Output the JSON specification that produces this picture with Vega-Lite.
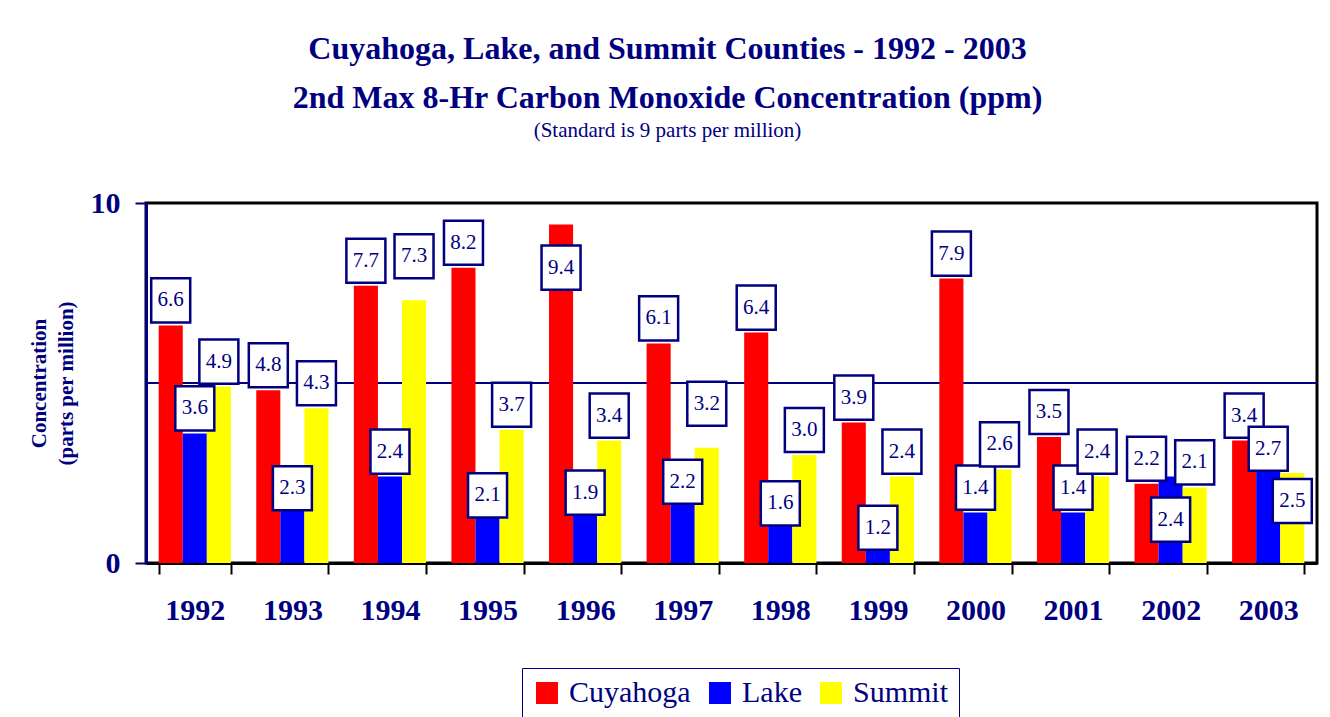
{
  "$schema": "https://vega.github.io/schema/vega-lite/v6.json",
  "autosize": "none",
  "width": 1171,
  "height": 360,
  "padding": {"left": 146, "top": 203, "right": 13, "bottom": 154},
  "background": "white",
  "title": {
    "text": ["Cuyahoga, Lake, and Summit Counties - 1992 - 2003", "2nd Max 8-Hr Carbon Monoxide Concentration (ppm)"],
    "subtitle": "(Standard is 9 parts per million)",
    "font": "Liberation Serif",
    "fontSize": 32,
    "fontWeight": "bold",
    "color": "#000080",
    "lineHeight": 49,
    "subtitleFont": "Liberation Serif",
    "subtitleFontSize": 21,
    "subtitleColor": "#000080",
    "subtitlePadding": 5,
    "anchor": "middle",
    "frame": "group",
    "dx": -64,
    "offset": 46
  },
  "data": {
    "values": [
      {"year": 1992, "county": "Cuyahoga", "value": 6.6},
      {"year": 1992, "county": "Lake", "value": 3.6},
      {"year": 1992, "county": "Summit", "value": 4.9},
      {"year": 1993, "county": "Cuyahoga", "value": 4.8},
      {"year": 1993, "county": "Lake", "value": 2.3},
      {"year": 1993, "county": "Summit", "value": 4.3},
      {"year": 1994, "county": "Cuyahoga", "value": 7.7},
      {"year": 1994, "county": "Lake", "value": 2.4},
      {"year": 1994, "county": "Summit", "value": 7.3},
      {"year": 1995, "county": "Cuyahoga", "value": 8.2},
      {"year": 1995, "county": "Lake", "value": 2.1},
      {"year": 1995, "county": "Summit", "value": 3.7},
      {"year": 1996, "county": "Cuyahoga", "value": 9.4},
      {"year": 1996, "county": "Lake", "value": 1.9},
      {"year": 1996, "county": "Summit", "value": 3.4},
      {"year": 1997, "county": "Cuyahoga", "value": 6.1},
      {"year": 1997, "county": "Lake", "value": 2.2},
      {"year": 1997, "county": "Summit", "value": 3.2},
      {"year": 1998, "county": "Cuyahoga", "value": 6.4},
      {"year": 1998, "county": "Lake", "value": 1.6},
      {"year": 1998, "county": "Summit", "value": 3.0},
      {"year": 1999, "county": "Cuyahoga", "value": 3.9},
      {"year": 1999, "county": "Lake", "value": 1.2},
      {"year": 1999, "county": "Summit", "value": 2.4},
      {"year": 2000, "county": "Cuyahoga", "value": 7.9},
      {"year": 2000, "county": "Lake", "value": 1.4},
      {"year": 2000, "county": "Summit", "value": 2.6},
      {"year": 2001, "county": "Cuyahoga", "value": 3.5},
      {"year": 2001, "county": "Lake", "value": 1.4},
      {"year": 2001, "county": "Summit", "value": 2.4},
      {"year": 2002, "county": "Cuyahoga", "value": 2.2},
      {"year": 2002, "county": "Lake", "value": 2.4},
      {"year": 2002, "county": "Summit", "value": 2.1},
      {"year": 2003, "county": "Cuyahoga", "value": 3.4},
      {"year": 2003, "county": "Lake", "value": 2.7},
      {"year": 2003, "county": "Summit", "value": 2.5}
    ]
  },
  "layer": [
    {
      "data": {"values": [{"level": 5}]},
      "mark": {"type": "rule", "color": "#000080", "strokeWidth": 2},
      "encoding": {
        "y": {"field": "level", "type": "quantitative", "scale": {"domain": [0, 10]}, "title": ["Concentration", "(parts per million)"], "axis": {"values": [0, 10]}}
      }
    },
    {
      "mark": {"type": "bar"},
      "encoding": {
        "x": {"field": "year", "type": "ordinal", "title": null, "scale": {"paddingInner": 0.26, "paddingOuter": 0.13}},
        "xOffset": {"field": "county", "type": "nominal", "scale": {"paddingInner": 0, "paddingOuter": 0}},
        "y": {"field": "value", "type": "quantitative", "scale": {"domain": [0, 10]}, "title": ["Concentration", "(parts per million)"], "axis": {"values": [0, 10]}},
        "color": {
          "field": "county", "type": "nominal",
          "scale": {"domain": ["Cuyahoga", "Lake", "Summit"], "range": ["#FF0000", "#0000FF", "#FFFF00"]},
          "legend": {
            "orient": "none", "legendX": 376, "legendY": 465, "direction": "horizontal", "title": null,
            "symbolType": "square", "symbolSize": 484, "symbolStrokeWidth": 0, "symbolOpacity": 1,
            "labelFont": "Liberation Serif", "labelFontSize": 30, "labelColor": "#000080", "labelOffset": 7,
            "strokeColor": "#000080", "fillColor": "white", "padding": 10, "columnPadding": 14
          }
        }
      }
    },
    {
      "transform": [{"filter": "indexof(['Summit1994','Summit1997','Cuyahoga1996','Lake2002','Lake1996','Lake1997','Lake1998','Lake1993','Lake1995','Lake1999','Lake2003','Summit2003'], datum.county + datum.year) < 0"}],
      "encoding": {
        "x": {"field": "year", "type": "ordinal"},
        "xOffset": {"field": "county", "type": "nominal"},
        "y": {"field": "value", "type": "quantitative"},
        "yOffset": {"value": -25}
      },
      "layer": [
        {"mark": {"type": "point", "shape": "M-1,-1.13L1,-1.13L1,1.13L-1,1.13Z", "size": 1521, "filled": true, "fill": "white", "stroke": "#000080", "strokeWidth": 2.5, "opacity": 1, "fillOpacity": 1, "strokeOpacity": 1}},
        {"mark": {"type": "text", "font": "Liberation Serif", "fontSize": 21, "color": "#000080", "baseline": "middle"}, "encoding": {"text": {"field": "value", "format": ".1f"}}}
      ]
    },
    {
      "transform": [{"filter": "indexof(['Summit1994','Summit1997'], datum.county + datum.year) >= 0"}],
      "encoding": {
        "x": {"field": "year", "type": "ordinal"},
        "xOffset": {"field": "county", "type": "nominal"},
        "y": {"field": "value", "type": "quantitative"},
        "yOffset": {"value": -44}
      },
      "layer": [
        {"mark": {"type": "point", "shape": "M-1,-1.13L1,-1.13L1,1.13L-1,1.13Z", "size": 1521, "filled": true, "fill": "white", "stroke": "#000080", "strokeWidth": 2.5, "opacity": 1, "fillOpacity": 1, "strokeOpacity": 1}},
        {"mark": {"type": "text", "font": "Liberation Serif", "fontSize": 21, "color": "#000080", "baseline": "middle"}, "encoding": {"text": {"field": "value", "format": ".1f"}}}
      ]
    },
    {
      "transform": [{"filter": "indexof(['Cuyahoga1996','Lake2002'], datum.county + datum.year) >= 0"}],
      "encoding": {
        "x": {"field": "year", "type": "ordinal"},
        "xOffset": {"field": "county", "type": "nominal"},
        "y": {"field": "value", "type": "quantitative"},
        "yOffset": {"value": 43}
      },
      "layer": [
        {"mark": {"type": "point", "shape": "M-1,-1.13L1,-1.13L1,1.13L-1,1.13Z", "size": 1521, "filled": true, "fill": "white", "stroke": "#000080", "strokeWidth": 2.5, "opacity": 1, "fillOpacity": 1, "strokeOpacity": 1}},
        {"mark": {"type": "text", "font": "Liberation Serif", "fontSize": 21, "color": "#000080", "baseline": "middle"}, "encoding": {"text": {"field": "value", "format": ".1f"}}}
      ]
    },
    {
      "transform": [{"filter": "indexof(['Lake1996','Lake1997','Lake1998'], datum.county + datum.year) >= 0"}],
      "encoding": {
        "x": {"field": "year", "type": "ordinal"},
        "xOffset": {"field": "county", "type": "nominal"},
        "y": {"field": "value", "type": "quantitative"},
        "yOffset": {"value": -2}
      },
      "layer": [
        {"mark": {"type": "point", "shape": "M-1,-1.13L1,-1.13L1,1.13L-1,1.13Z", "size": 1521, "filled": true, "fill": "white", "stroke": "#000080", "strokeWidth": 2.5, "opacity": 1, "fillOpacity": 1, "strokeOpacity": 1}},
        {"mark": {"type": "text", "font": "Liberation Serif", "fontSize": 21, "color": "#000080", "baseline": "middle"}, "encoding": {"text": {"field": "value", "format": ".1f"}}}
      ]
    },
    {
      "transform": [{"filter": "indexof(['Lake1993','Lake1995','Lake1999'], datum.county + datum.year) >= 0"}],
      "encoding": {
        "x": {"field": "year", "type": "ordinal"},
        "xOffset": {"field": "county", "type": "nominal"},
        "y": {"field": "value", "type": "quantitative"},
        "yOffset": {"value": 8}
      },
      "layer": [
        {"mark": {"type": "point", "shape": "M-1,-1.13L1,-1.13L1,1.13L-1,1.13Z", "size": 1521, "filled": true, "fill": "white", "stroke": "#000080", "strokeWidth": 2.5, "opacity": 1, "fillOpacity": 1, "strokeOpacity": 1}},
        {"mark": {"type": "text", "font": "Liberation Serif", "fontSize": 21, "color": "#000080", "baseline": "middle"}, "encoding": {"text": {"field": "value", "format": ".1f"}}}
      ]
    },
    {
      "transform": [{"filter": "indexof(['Lake2003'], datum.county + datum.year) >= 0"}],
      "encoding": {
        "x": {"field": "year", "type": "ordinal"},
        "xOffset": {"field": "county", "type": "nominal"},
        "y": {"field": "value", "type": "quantitative"},
        "yOffset": {"value": -17}
      },
      "layer": [
        {"mark": {"type": "point", "shape": "M-1,-1.13L1,-1.13L1,1.13L-1,1.13Z", "size": 1521, "filled": true, "fill": "white", "stroke": "#000080", "strokeWidth": 2.5, "opacity": 1, "fillOpacity": 1, "strokeOpacity": 1}},
        {"mark": {"type": "text", "font": "Liberation Serif", "fontSize": 21, "color": "#000080", "baseline": "middle"}, "encoding": {"text": {"field": "value", "format": ".1f"}}}
      ]
    },
    {
      "transform": [{"filter": "indexof(['Summit2003'], datum.county + datum.year) >= 0"}],
      "encoding": {
        "x": {"field": "year", "type": "ordinal"},
        "xOffset": {"field": "county", "type": "nominal"},
        "y": {"field": "value", "type": "quantitative"},
        "yOffset": {"value": 28}
      },
      "layer": [
        {"mark": {"type": "point", "shape": "M-1,-1.13L1,-1.13L1,1.13L-1,1.13Z", "size": 1521, "filled": true, "fill": "white", "stroke": "#000080", "strokeWidth": 2.5, "opacity": 1, "fillOpacity": 1, "strokeOpacity": 1}},
        {"mark": {"type": "text", "font": "Liberation Serif", "fontSize": 21, "color": "#000080", "baseline": "middle"}, "encoding": {"text": {"field": "value", "format": ".1f"}}}
      ]
    }
  ],
  "config": {
    "view": {"stroke": "#000000", "strokeWidth": 3},
    "font": "Liberation Serif",
    "axis": {"grid": false, "labelFont": "Liberation Serif", "titleFont": "Liberation Serif"},
    "axisX": {
      "domainColor": "#000000", "domainWidth": 3, "tickColor": "#000000", "tickWidth": 2, "tickSize": 11, "tickBand": "extent",
      "labelFontSize": 30, "labelFontWeight": "bold", "labelColor": "#000080", "labelPadding": 36, "labelBaseline": "middle", "labelAngle": 0
    },
    "axisY": {
      "domainColor": "#000080", "domainWidth": 3, "tickColor": "#000080", "tickWidth": 2, "tickSize": 11,
      "labelFontSize": 30, "labelFontWeight": "bold", "labelColor": "#000080", "labelPadding": 15,
      "titleFontSize": 21, "titleFontWeight": "bold", "titleColor": "#000080", "titlePadding": 14, "titleLineHeight": 27
    }
  }
}
